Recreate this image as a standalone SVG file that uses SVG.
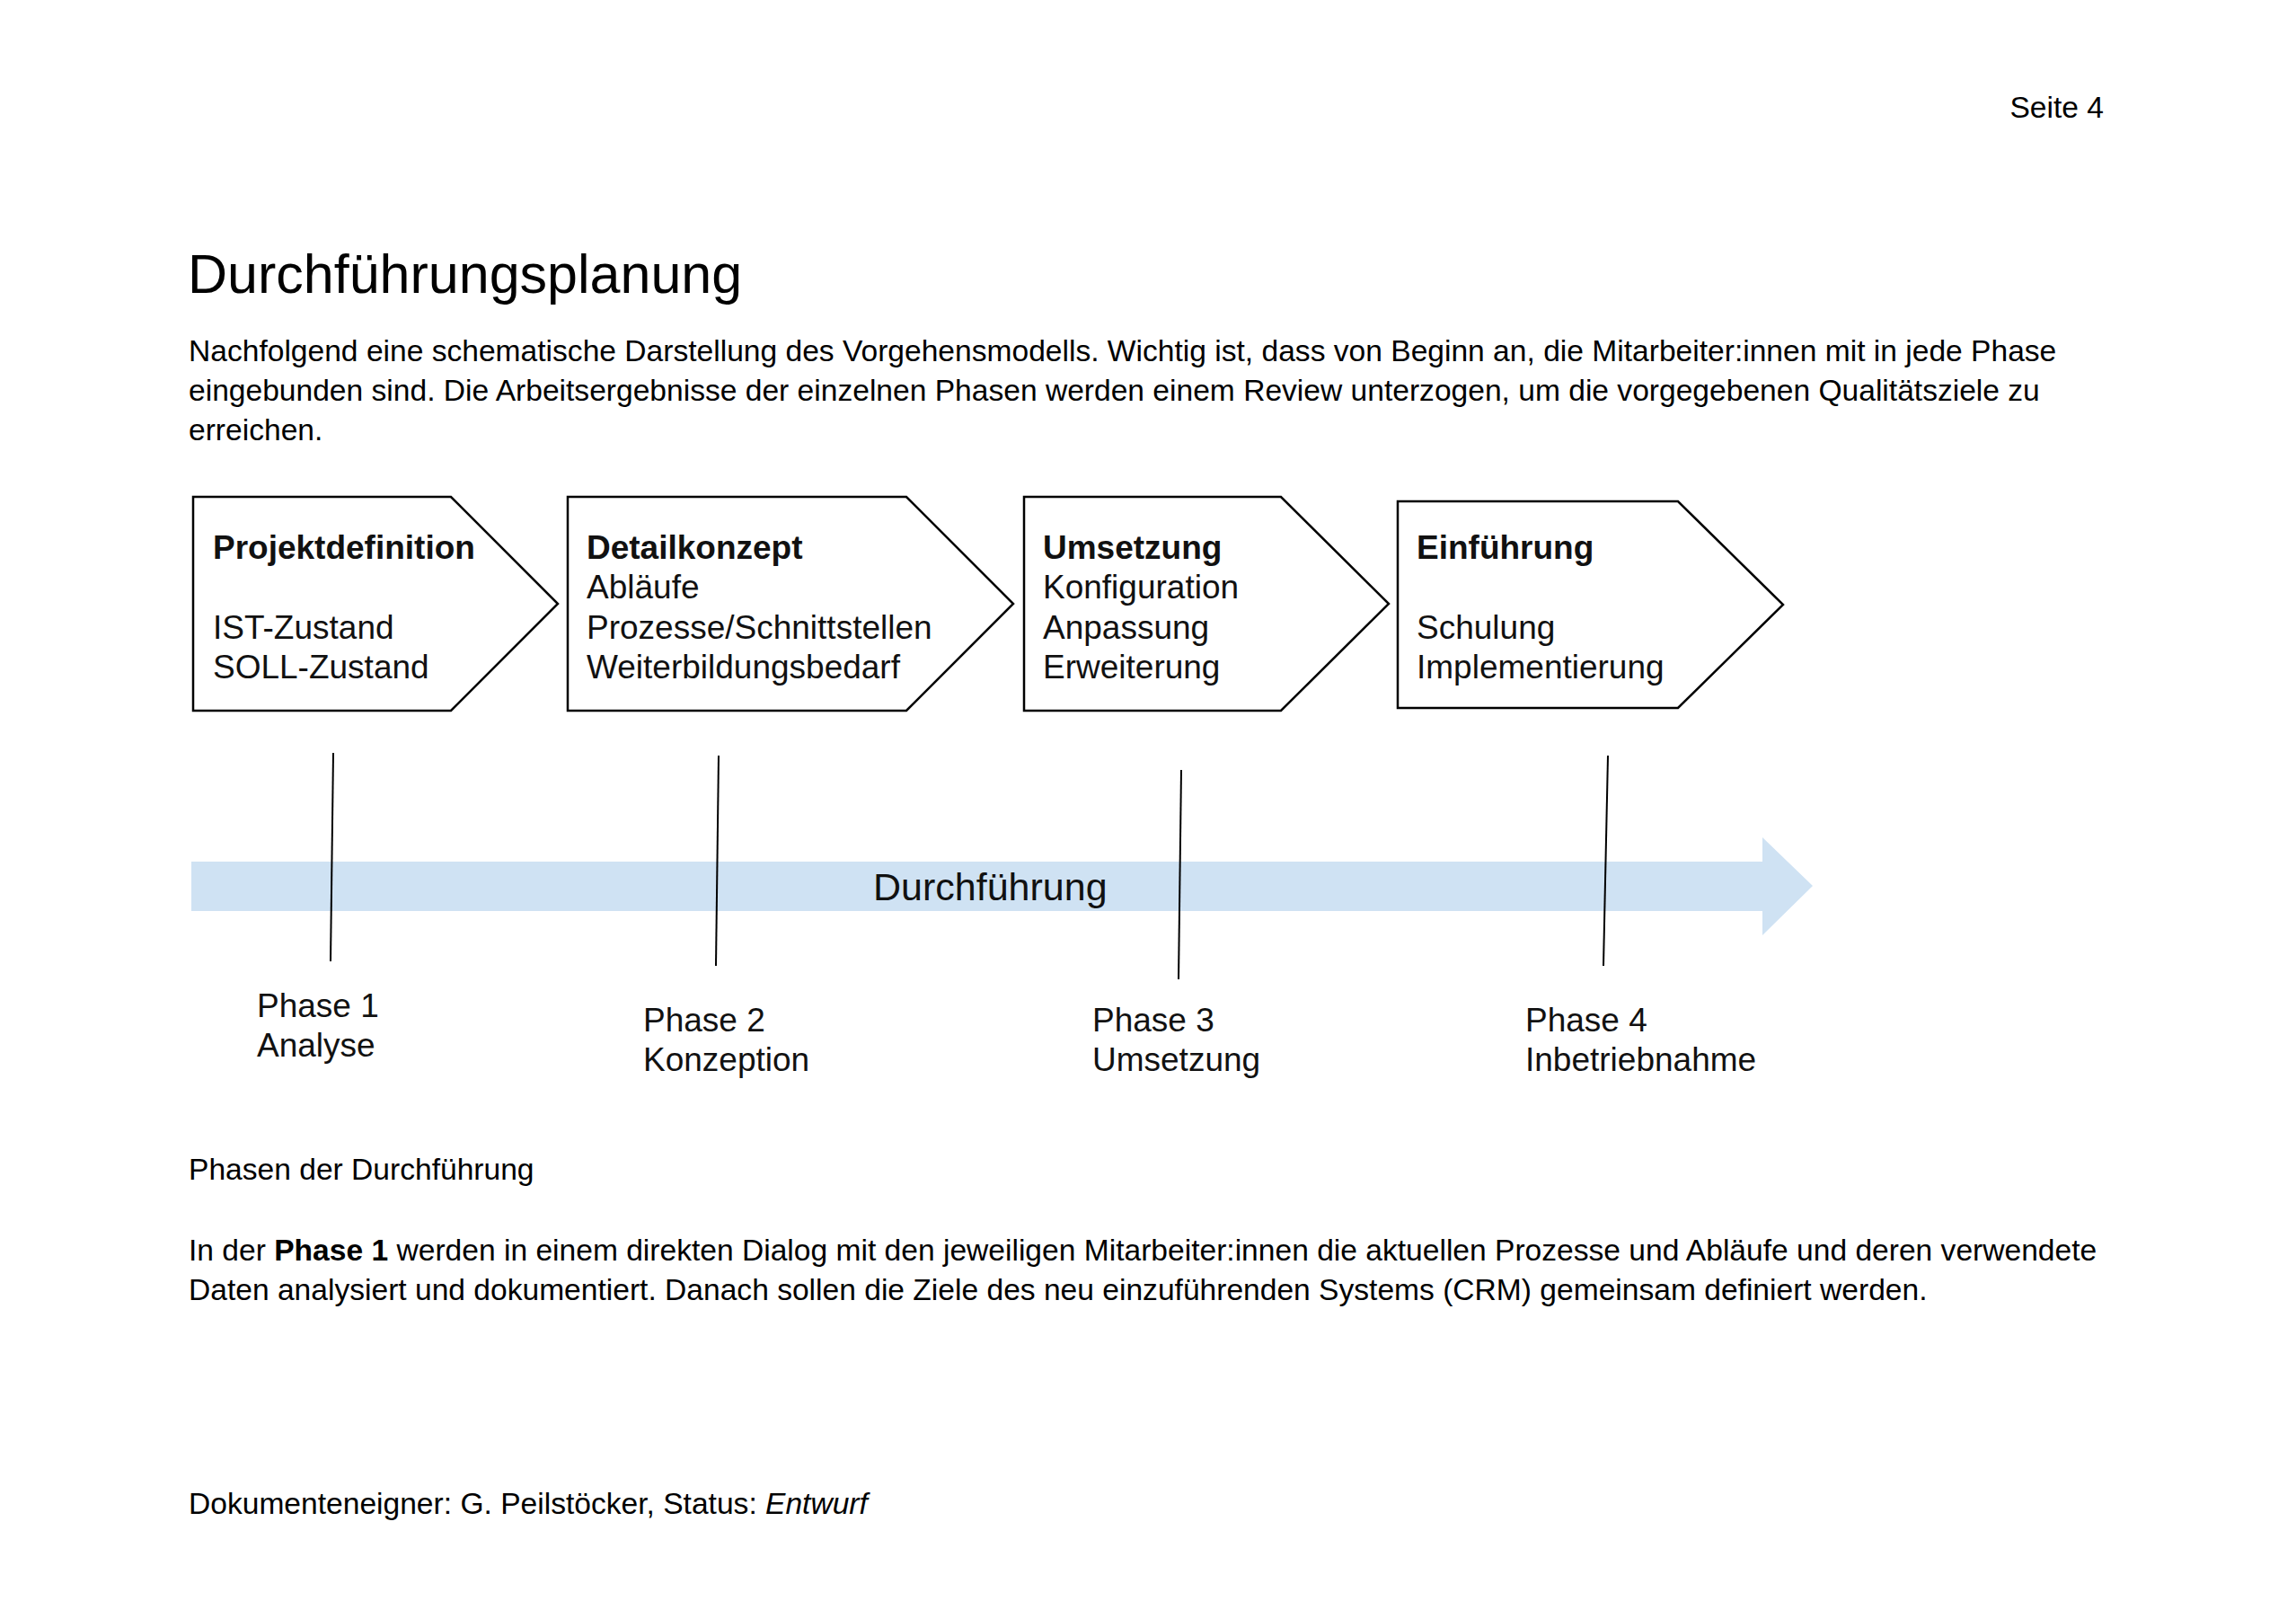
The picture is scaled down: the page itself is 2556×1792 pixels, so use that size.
<svg xmlns="http://www.w3.org/2000/svg" width="2556" height="1792" viewBox="0 0 2556 1792">
<style>
  .body { font-family: "Liberation Sans", Arial, sans-serif; font-size: 33.6px; fill: #000; }
  .title { font-family: "Liberation Sans", Arial, sans-serif; font-size: 61px; fill: #000; }
  .node { fill: #fff; stroke: #000; stroke-width: 2.5; stroke-linejoin: miter; }
  .nt { font-family: "Liberation Sans", Arial, sans-serif; font-size: 37px; fill: #111; }
  .nb { font-weight: bold; }
  .band-label { font-family: "Liberation Sans", Arial, sans-serif; font-size: 43px; fill: #111; }
  .tick { stroke: #000; stroke-width: 2; fill: none; }
  .band { fill: #cfe2f3; }
</style>
<rect width="2556" height="1792" fill="#fff"/>

<g id="page-text">
  <text class="body" x="2342" y="131" text-anchor="end">Seite 4</text>
  <text class="title" x="209" y="326">Durchführungsplanung</text>
  <text class="body" x="210" y="402">Nachfolgend eine schematische Darstellung des Vorgehensmodells. Wichtig ist, dass von Beginn an, die Mitarbeiter:innen mit in jede Phase</text>
  <text class="body" x="210" y="446">eingebunden sind. Die Arbeitsergebnisse der einzelnen Phasen werden einem Review unterzogen, um die vorgegebenen Qualitätsziele zu</text>
  <text class="body" x="210" y="490">erreichen.</text>
  <text class="body" x="210" y="1313">Phasen der Durchführung</text>
  <text class="body" x="210" y="1403">In der <tspan font-weight="bold">Phase 1</tspan> werden in einem direkten Dialog mit den jeweiligen Mitarbeiter:innen die aktuellen Prozesse und Abläufe und deren verwendete</text>
  <text class="body" x="210" y="1447">Daten analysiert und dokumentiert. Danach sollen die Ziele des neu einzuführenden Systems (CRM) gemeinsam definiert werden.</text>
  <text class="body" x="210" y="1685">Dokumenteneigner: G. Peilstöcker, Status: <tspan font-style="italic">Entwurf</tspan></text>
</g>

<g id="node-projektdefinition">
  <path class="node" d="M215,553 H502 L621,672 L502,791 H215 Z"/>
  <text class="nt nb" x="237" y="622">Projektdefinition</text>
  <text class="nt" x="237" y="711">IST-Zustand</text>
  <text class="nt" x="237" y="755">SOLL-Zustand</text>
</g>

<g id="node-detailkonzept">
  <path class="node" d="M632,553 H1009 L1128,672 L1009,791 H632 Z"/>
  <text class="nt nb" x="653" y="622">Detailkonzept</text>
  <text class="nt" x="653" y="666">Abläufe</text>
  <text class="nt" x="653" y="711">Prozesse/Schnittstellen</text>
  <text class="nt" x="653" y="755">Weiterbildungsbedarf</text>
</g>

<g id="node-umsetzung">
  <path class="node" d="M1140,553 H1426 L1546,672 L1426,791 H1140 Z"/>
  <text class="nt nb" x="1161" y="622">Umsetzung</text>
  <text class="nt" x="1161" y="666">Konfiguration</text>
  <text class="nt" x="1161" y="711">Anpassung</text>
  <text class="nt" x="1161" y="755">Erweiterung</text>
</g>

<g id="node-einfuehrung">
  <path class="node" d="M1556,558 H1868 L1985,673 L1868,788 H1556 Z"/>
  <text class="nt nb" x="1577" y="622">Einführung</text>
  <text class="nt" x="1577" y="711">Schulung</text>
  <text class="nt" x="1577" y="755">Implementierung</text>
</g>

<g id="timeline">
  <path class="band" d="M213,959 H1962 V932 L2018,986 L1962,1041 V1014 H213 Z"/>
  <text class="band-label" x="972" y="1002">Durchführung</text>
</g>

<g id="connectors">
  <line class="tick" x1="371" y1="838" x2="368" y2="1070"/>
  <line class="tick" x1="800" y1="841" x2="797" y2="1075"/>
  <line class="tick" x1="1315" y1="857" x2="1312" y2="1090"/>
  <line class="tick" x1="1790" y1="841" x2="1785" y2="1075"/>
</g>

<g id="phase-labels">
  <text class="nt" x="286" y="1132">Phase 1</text>
  <text class="nt" x="286" y="1176">Analyse</text>
  <text class="nt" x="716" y="1148">Phase 2</text>
  <text class="nt" x="716" y="1192">Konzeption</text>
  <text class="nt" x="1216" y="1148">Phase 3</text>
  <text class="nt" x="1216" y="1192">Umsetzung</text>
  <text class="nt" x="1698" y="1148">Phase 4</text>
  <text class="nt" x="1698" y="1192">Inbetriebnahme</text>
</g>
</svg>
